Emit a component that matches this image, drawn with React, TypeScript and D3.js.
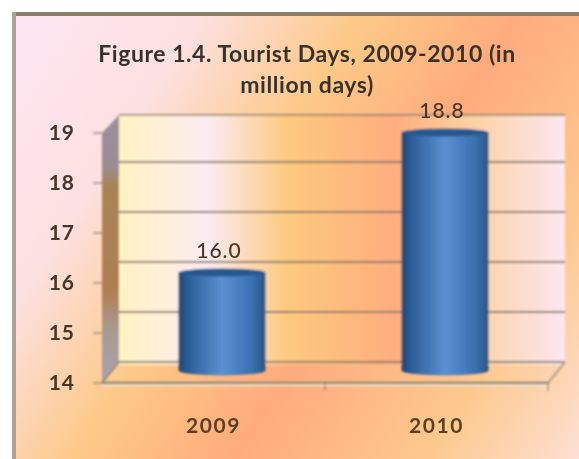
import React from "react";
import * as d3 from "d3";

const categories = ["2009", "2010"];
const values = [16.0, 18.8];
const valueLabels = ["16.0", "18.8"];
const yTicks = [14, 15, 16, 17, 18, 19];
const titleLines = ["Figure 1.4. Tourist Days, 2009-2010 (in", "million days)"];

const W = 579, H = 459;
const DX = 17, DY = 21;
const x0 = 102, x1 = 548;
const yFront = d3.scaleLinear().domain([14, 19]).range([383, 133]);
const xBand = d3.scaleBand<string>().domain(categories).range([x0, x1]).paddingInner(0).paddingOuter(0);
const barW = xBand.bandwidth() * 0.39;
const ry = 5;
const line = d3.line<[number, number]>();
const textColor = "#45372a";
const gridColor = "#8a7c6c";

export default function App() {
  const bottomY = yFront(14) - DY / 2 - 2;
  return (
    <svg width={W} height={H} style={{ position: "absolute", left: 0, top: 0 }}>
      <defs>
        <linearGradient id="bg" gradientUnits="userSpaceOnUse" x1="0" y1="60" x2="620" y2="460">
          <stop offset="0" stopColor="#fde6f2" />
          <stop offset="0.2" stopColor="#fde0e0" />
          <stop offset="0.38" stopColor="#fdc987" />
          <stop offset="0.56" stopColor="#ffab7d" />
          <stop offset="0.78" stopColor="#fdc98f" />
          <stop offset="1" stopColor="#fde6e6" />
        </linearGradient>
        <linearGradient id="wall" gradientUnits="userSpaceOnUse" x1="118" y1="0" x2="565" y2="0">
          <stop offset="0" stopColor="#fff3c2" />
          <stop offset="0.2" stopColor="#fdebf3" />
          <stop offset="0.38" stopColor="#fdc97e" />
          <stop offset="0.62" stopColor="#ffad7f" />
          <stop offset="0.78" stopColor="#fdd0a0" />
          <stop offset="1" stopColor="#fde6f0" />
        </linearGradient>
        <linearGradient id="side" x1="0" y1="0" x2="0" y2="1">
          <stop offset="0" stopColor="#9a90a2" />
          <stop offset="0.2" stopColor="#9c8c90" />
          <stop offset="0.26" stopColor="#a88458" />
          <stop offset="0.65" stopColor="#b07e52" />
          <stop offset="0.8" stopColor="#a89a90" />
          <stop offset="1" stopColor="#a9a2ae" />
        </linearGradient>
        <linearGradient id="cyl" x1="0" y1="0" x2="1" y2="0">
          <stop offset="0" stopColor="#1f4770" />
          <stop offset="0.12" stopColor="#2c5f98" />
          <stop offset="0.5" stopColor="#5b90d2" />
          <stop offset="0.85" stopColor="#3a70b0" />
          <stop offset="1" stopColor="#2a5485" />
        </linearGradient>
        <filter id="soft" x="-5%" y="-5%" width="110%" height="110%">
          <feGaussianBlur stdDeviation="0.8" />
        </filter>
        <filter id="softT" x="-5%" y="-20%" width="110%" height="140%">
          <feGaussianBlur stdDeviation="0.6" />
        </filter>
      </defs>
      <rect x={0} y={0} width={W} height={H} fill="#ffffff" />
      <rect x={12} y={12} width={W - 12} height={H - 12} fill="url(#bg)" />
      <rect x={12} y={12} width={W - 12} height={4} fill="#8f7d65" />
      <rect x={12} y={12} width={4} height={H - 12} fill="#a9a39b" />

      <g filter="url(#soft)">
        <rect x={x0 + DX} y={yFront(19) - DY + 3} width={x1 - x0} height={yFront(14) - yFront(19)} fill="url(#wall)" />
        <polygon
          points={[[x0, yFront(19)], [x0 + DX, yFront(19) - DY + 3], [x0 + DX, yFront(14) - DY], [x0, yFront(14)]].join(" ")}
          fill="url(#side)"
        />
        {yTicks.map((t) => {
          const yb = yFront(t) - DY + (t === 19 ? 3 : 0);
          return (
            <g key={t}>
              <path d={line([[x0 + DX, yb], [x1 + DX, yb]]) as string} stroke={gridColor} strokeWidth={t === 19 ? 1.5 : 2.2} fill="none" />
              <path d={line([[x0 - 9, yFront(t)], [x0, yFront(t)]]) as string} stroke={gridColor} strokeWidth={1.5} opacity={0.8} fill="none" />
            </g>
          );
        })}
        <path d={line([[x0, yFront(14) + 2], [x1, yFront(14) + 2]]) as string} stroke="#f6ead8" strokeWidth={2} fill="none" />
        <path d={line([[x0, yFront(14)], [x1, yFront(14)]]) as string} stroke="#94846c" strokeWidth={2.4} fill="none" />
        <path d={line([[x1, yFront(14)], [x1 + DX, yFront(14) - DY]]) as string} stroke="#b8a488" strokeWidth={2} fill="none" />
        <path d={line([[x0, yFront(14)], [x0 + DX, yFront(14) - DY]]) as string} stroke="#94846c" strokeWidth={1.5} fill="none" />
        {[...categories.map((c) => xBand(c) as number), x1].map((x, i) => (
          <path key={i} d={line([[x, yFront(14)], [x, yFront(14) + 8]]) as string} stroke="#94846c" strokeWidth={1.5} opacity={i === 0 ? 0 : 0.8} fill="none" />
        ))}
        {categories.map((c, i) => {
          const cx = (xBand(c) as number) + xBand.bandwidth() / 2 + DX / 2;
          const topY = yFront(values[i]) - DY / 2;
          const left = cx - barW / 2, right = cx + barW / 2;
          return (
            <g key={c}>
              <path
                d={`M${left},${topY}L${left},${bottomY}A${barW / 2},${ry} 0 0 0 ${right},${bottomY}L${right},${topY}Z`}
                fill="url(#cyl)"
              />
              <ellipse cx={cx} cy={topY} rx={barW / 2} ry={ry - 1} fill="#25588f" />
            </g>
          );
        })}
      </g>

      <g filter="url(#softT)" fontFamily="Lato, 'Open Sans', sans-serif" fontWeight={700} fill={textColor}>
        {titleLines.map((l, i) => (
          <text key={i} x={307} y={62 + i * 31} textAnchor="middle" fontSize={23} letterSpacing={0.55} fill="#38322c">{l}</text>
        ))}
        {yTicks.map((t) => (
          <text key={t} x={75} y={yFront(t) + 7} textAnchor="end" fontSize={21} letterSpacing={1}>{t}</text>
        ))}
        {categories.map((c) => (
          <text key={c} x={(xBand(c) as number) + xBand.bandwidth() / 2} y={433} textAnchor="middle" fontSize={21} letterSpacing={1.6} fill="#5c4026">{c}</text>
        ))}
        {categories.map((c, i) => (
          <text key={c} x={(xBand(c) as number) + xBand.bandwidth() / 2 + DX / 2 - 3} y={yFront(values[i]) - DY / 2 - 15} textAnchor="middle" fontSize={21} fontWeight={500} letterSpacing={1}>{valueLabels[i]}</text>
        ))}
      </g>
    </svg>
  );
}
